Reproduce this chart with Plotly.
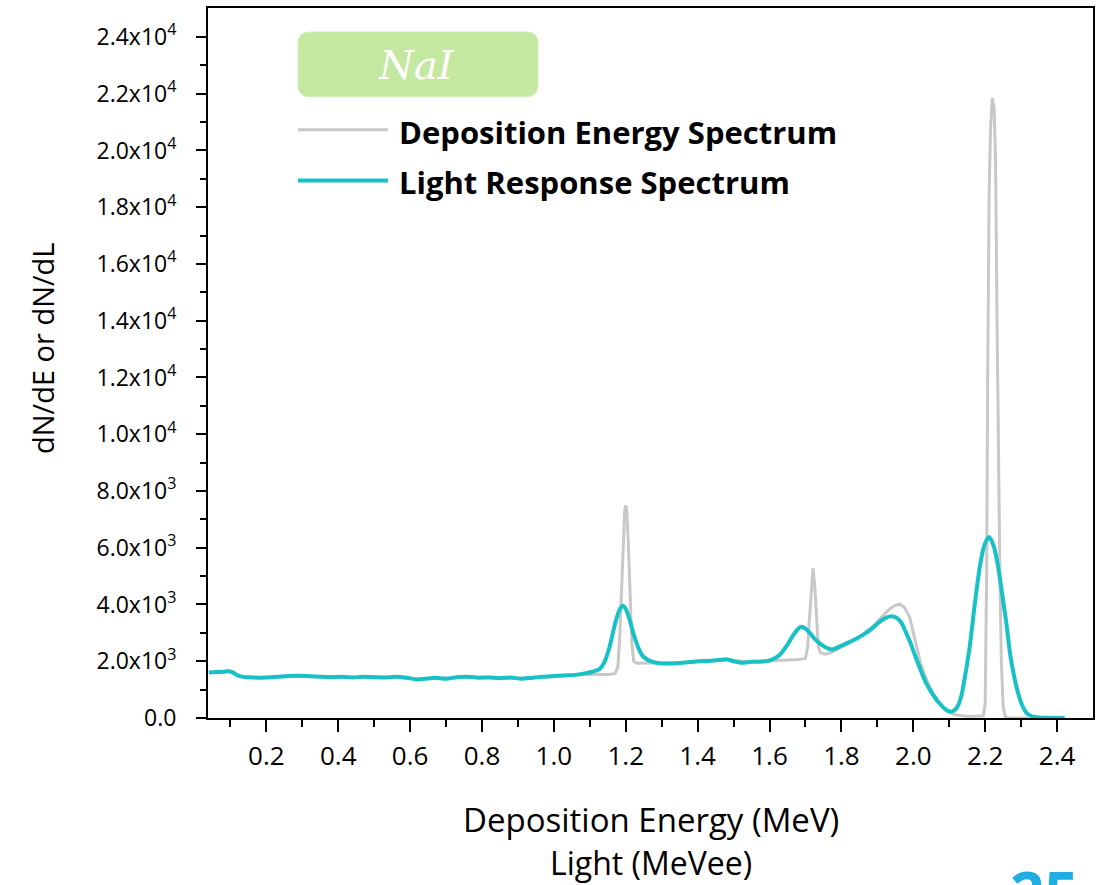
import plotly.graph_objects as go

# ---- Light response spectrum (MeVee, counts per bin) ----
light_x = [0.040, 0.060, 0.080, 0.093, 0.105, 0.120, 0.140, 0.160, 0.180, 0.200,
           0.230, 0.260, 0.290, 0.320, 0.350, 0.380, 0.410, 0.440, 0.470, 0.500,
           0.530, 0.560, 0.590, 0.620, 0.640, 0.670, 0.700, 0.730, 0.760, 0.790,
           0.820, 0.850, 0.880, 0.910, 0.940, 0.970, 1.000, 1.030, 1.060, 1.090,
           1.110, 1.127, 1.140, 1.155, 1.165, 1.174, 1.184, 1.192, 1.200, 1.211,
           1.222, 1.234, 1.245, 1.257, 1.275, 1.294, 1.320, 1.350, 1.380, 1.400,
           1.430, 1.460, 1.480, 1.500, 1.520, 1.550, 1.582, 1.605, 1.628, 1.648,
           1.665, 1.680, 1.690, 1.700, 1.712, 1.725, 1.745, 1.765, 1.777, 1.800,
           1.830, 1.860, 1.885, 1.906, 1.925, 1.940, 1.955, 1.967, 1.980, 1.992,
           2.005, 2.020, 2.035, 2.050, 2.065, 2.080, 2.092, 2.103, 2.115, 2.125,
           2.135, 2.145, 2.157, 2.170, 2.185, 2.198, 2.211, 2.224, 2.236, 2.248,
           2.259, 2.270, 2.280, 2.290, 2.303, 2.315, 2.330, 2.350, 2.380, 2.421]
light_y = [1600, 1620, 1630, 1650, 1620, 1500, 1440, 1430, 1420, 1430,
           1450, 1480, 1490, 1470, 1450, 1440, 1450, 1430, 1450, 1440,
           1430, 1450, 1420, 1360, 1380, 1420, 1380, 1440, 1450, 1420,
           1430, 1400, 1430, 1380, 1420, 1450, 1480, 1500, 1520, 1580,
           1640, 1720, 1950, 2510, 3050, 3500, 3850, 3960, 3850, 3450,
           2950, 2510, 2220, 2080, 1980, 1930, 1920, 1940, 1970, 2000,
           2010, 2040, 2070, 2000, 1950, 1980, 1990, 2050, 2220, 2550,
           2900, 3150, 3220, 3150, 3000, 2800, 2580, 2440, 2420, 2550,
           2720, 2930, 3150, 3390, 3540, 3590, 3520, 3350, 3000, 2650,
           2200, 1700, 1250, 920, 630, 420, 280, 220, 280, 450,
           850, 1550, 2510, 3900, 5330, 6100, 6380, 6050, 5330, 4300,
           3340, 2200, 1500, 950, 450, 180, 60, 20, 10, 0]

# ---- Deposition energy spectrum (MeV, counts per bin) ----
dep_x = [0.040, 0.070, 0.093, 0.120, 0.150, 0.200, 0.260, 0.320, 0.400, 0.480,
         0.560, 0.620, 0.680, 0.750, 0.820, 0.900, 0.960, 1.020, 1.070, 1.100,
         1.150, 1.170, 1.178, 1.183, 1.188, 1.193, 1.197, 1.200, 1.203, 1.207,
         1.212, 1.217, 1.222, 1.230, 1.280, 1.350, 1.420, 1.480, 1.540, 1.600,
         1.650, 1.680, 1.700, 1.706, 1.711, 1.716, 1.721, 1.726, 1.731, 1.736,
         1.742, 1.755, 1.770, 1.800, 1.830, 1.860, 1.890, 1.915, 1.935, 1.950,
         1.962, 1.975, 1.990, 2.000, 2.009, 2.020, 2.037, 2.055, 2.074, 2.090,
         2.111, 2.140, 2.166, 2.185, 2.195, 2.200, 2.204, 2.207, 2.211, 2.215,
         2.220, 2.225, 2.229, 2.233, 2.237, 2.241, 2.245, 2.250, 2.256, 2.265,
         2.320]
dep_y = [1600, 1620, 1650, 1500, 1440, 1430, 1480, 1470, 1450, 1440,
         1440, 1370, 1400, 1440, 1430, 1400, 1440, 1490, 1520, 1530,
         1530, 1560, 1800, 2800, 4500, 6300, 7300, 7500, 7300, 6200,
         4300, 2600, 2000, 1930, 1940, 1950, 2000, 2050, 1980, 2010,
         2040, 2060, 2100, 2500, 3500, 4600, 5270, 4600, 3300, 2500,
         2300, 2250, 2300, 2500, 2700, 2950, 3250, 3600, 3850, 3970,
         4010, 3900, 3550, 3000, 2500, 1950, 1340, 850, 530, 300,
         130, 70, 60, 70, 80, 500, 5000, 12000, 18500, 20800,
         21850, 21500, 19500, 14000, 9000, 5000, 2000, 400, 50, 0,
         0]

# ---- Axis ticks ----
y_tickvals = [0, 2000, 4000, 6000, 8000, 10000, 12000, 14000, 16000, 18000,
              20000, 22000, 24000]
y_ticktext = ["0.0", "2.0x10<sup>3</sup>", "4.0x10<sup>3</sup>", "6.0x10<sup>3</sup>",
              "8.0x10<sup>3</sup>", "1.0x10<sup>4</sup>", "1.2x10<sup>4</sup>",
              "1.4x10<sup>4</sup>", "1.6x10<sup>4</sup>", "1.8x10<sup>4</sup>",
              "2.0x10<sup>4</sup>", "2.2x10<sup>4</sup>", "2.4x10<sup>4</sup>"]
y_minor = [1000, 3000, 5000, 7000, 9000, 11000, 13000, 15000, 17000, 19000,
           21000, 23000]
x_tickvals = [0.2, 0.4, 0.6, 0.8, 1.0, 1.2, 1.4, 1.6, 1.8, 2.0, 2.2, 2.4]
x_ticktext = ["0.2", "0.4", "0.6", "0.8", "1.0", "1.2", "1.4", "1.6", "1.8",
              "2.0", "2.2", "2.4"]
x_minor = [0.1, 0.3, 0.5, 0.7, 0.9, 1.1, 1.3, 1.5, 1.7, 1.9, 2.1, 2.3]

series_names = ["Deposition Energy Spectrum", "Light Response Spectrum"]
GRAY = "#c8c8c8"
TEAL = "#17c1c5"

# page layout in pixels
W, H = 1108, 885
L, R, T, B = 208, 1093, 6, 718


def px(X):
    return (X - L) / (R - L)


def py(Y):
    return (B - Y) / (B - T)


def rounded_rect(x0, y0, x1, y1, r):
    # path in paper units built from pixel corners, with circular corners
    rx, ry = r / (R - L), r / (B - T)
    a, b, c, d = px(x0), py(y1), px(x1), py(y0)  # left, bottom, right, top
    return (f"M{a + rx},{b} L{c - rx},{b} Q{c},{b} {c},{b + ry} "
            f"L{c},{d - ry} Q{c},{d} {c - rx},{d} L{a + rx},{d} "
            f"Q{a},{d} {a},{d - ry} L{a},{b + ry} Q{a},{b} {a + rx},{b} Z")


fig = go.Figure()
fig.add_trace(go.Scatter(x=dep_x, y=dep_y, mode="lines", name=series_names[0],
                         line=dict(color=GRAY, width=3), showlegend=False))
fig.add_trace(go.Scatter(x=light_x, y=light_y, mode="lines", name=series_names[1],
                         line=dict(color=TEAL, width=4, shape="spline", smoothing=0.6),
                         showlegend=False))

fig.update_xaxes(range=[0.0376, 2.5], tickmode="array", tickvals=x_tickvals,
                 ticktext=x_ticktext, ticks="outside", ticklen=12, tickwidth=2,
                 tickcolor="black", showline=True, linewidth=2, linecolor="black",
                 mirror=True, showgrid=False, zeroline=False,
                 tickfont=dict(family="Open Sans", size=26, color="black"),
                 ticklabelstandoff=2,
                 minor=dict(tickmode="array", tickvals=x_minor, ticks="outside",
                            ticklen=7, tickwidth=2, tickcolor="black", showgrid=False))
fig.update_yaxes(range=[0, 25020], tickmode="array", tickvals=y_tickvals,
                 ticktext=y_ticktext, ticks="outside", ticklen=10, tickwidth=2,
                 tickcolor="black", showline=True, linewidth=2, linecolor="black",
                 mirror=True, showgrid=False, zeroline=False,
                 tickfont=dict(family="Open Sans", size=23, color="black"),
                 ticklabelstandoff=15,
                 minor=dict(tickmode="array", tickvals=y_minor, ticks="outside",
                            ticklen=6, tickwidth=2, tickcolor="black", showgrid=False))

shapes = [
    dict(type="path", xref="paper", yref="paper",
         path=rounded_rect(298, 30, 538, 95, 12),
         fillcolor="#c4e89f", line=dict(color="#d2eeb8", width=1)),
    dict(type="line", xref="paper", yref="paper", x0=px(298), x1=px(388),
         y0=py(128), y1=py(128), line=dict(color=GRAY, width=3)),
    dict(type="line", xref="paper", yref="paper", x0=px(298), x1=px(388),
         y0=py(179), y1=py(179), line=dict(color=TEAL, width=4)),
]

annotations = [
    # italic serif label inside the green box
    dict(text="<i>NaI</i>", x=px(416), y=py(63), xref="paper", yref="paper",
         showarrow=False, font=dict(family="DejaVu Serif", size=40, color="white"),
         xanchor="center", yanchor="middle"),
    dict(text=f"<b>{series_names[0]}</b>", x=px(397), y=py(130), xref="paper",
         yref="paper", showarrow=False, xanchor="left", yanchor="middle",
         font=dict(family="Open Sans", size=31, color="black")),
    dict(text=f"<b>{series_names[1]}</b>", x=px(397), y=py(180), xref="paper",
         yref="paper", showarrow=False, xanchor="left", yanchor="middle",
         font=dict(family="Open Sans", size=31, color="black")),
    dict(text="dN/dE or dN/dL", x=px(42), y=py(347), xref="paper", yref="paper",
         showarrow=False, textangle=-90, xanchor="center", yanchor="middle",
         font=dict(family="Open Sans", size=29, color="black")),
    dict(text="Deposition Energy (MeV)", x=0.5, y=py(820), xref="paper", yref="paper",
         showarrow=False, xanchor="center", yanchor="middle",
         font=dict(family="Open Sans", size=33, color="black")),
    dict(text="Light (MeVee)", x=0.5, y=py(863), xref="paper", yref="paper",
         showarrow=False, xanchor="center", yanchor="middle",
         font=dict(family="Open Sans", size=32, color="black")),
    dict(text="<b>25</b>", x=px(1008), y=py(850), xref="paper", yref="paper",
         showarrow=False, xanchor="left", yanchor="top",
         font=dict(family="Open Sans", size=60, color="#1eaee4")),
]

fig.update_layout(width=W, height=H, autosize=False,
                  margin=dict(l=L, r=W - R, t=T, b=H - B),
                  paper_bgcolor="white", plot_bgcolor="white",
                  shapes=shapes, annotations=annotations, showlegend=False)

fig.write_html("out.html")
